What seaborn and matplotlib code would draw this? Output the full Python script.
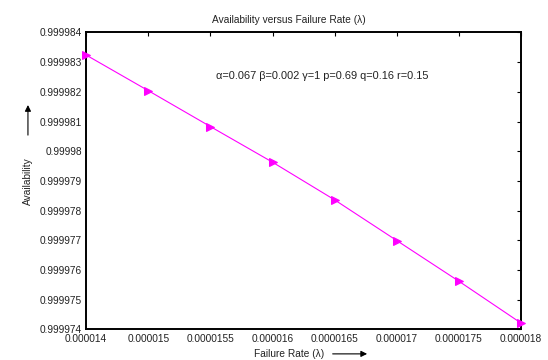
import matplotlib
matplotlib.use("Agg")
import matplotlib.pyplot as plt
import seaborn as sns
import pandas as pd

# Data
rate_labels = ["0.000014", "0.000015", "0.0000155", "0.000016",
               "0.0000165", "0.000017", "0.0000175", "0.000018"]
availability = [0.99998324, 0.99998204, 0.99998083, 0.99997963,
                0.99997836, 0.99997699, 0.99997562, 0.99997421]
y_ticks = [0.999974, 0.999975, 0.999976, 0.999977, 0.999978,
           0.999979, 0.99998, 0.999981, 0.999982, 0.999983, 0.999984]
y_tick_labels = ["0.999974", "0.999975", "0.999976", "0.999977", "0.999978",
                 "0.999979", "0.99998", "0.999981", "0.999982", "0.999983", "0.999984"]

df = pd.DataFrame({"pos": range(len(rate_labels)), "avail": availability})

sns.set_style("white")
plt.rcParams["font.family"] = ["Liberation Sans", "DejaVu Sans"]
plt.rcParams["font.size"] = 7.3

fig = plt.figure(figsize=(5.48, 3.6), dpi=100)
ax = fig.add_axes([0.157, 0.085, 0.794, 0.825])

sns.lineplot(data=df, x="pos", y="avail", ax=ax, color="#ff00ff",
             marker=">", markersize=6, markeredgecolor="#ff00ff",
             linewidth=0.8, clip_on=False, zorder=5)

ax.set_xlim(0, len(rate_labels) - 1)
ax.set_ylim(y_ticks[0], y_ticks[-1])
ax.set_xticks(range(len(rate_labels)))
ax.set_xticklabels(rate_labels)
ax.set_yticks(y_ticks)
ax.set_yticklabels(y_tick_labels)
ax.set_xlabel("")
ax.set_ylabel("")

for s in ax.spines.values():
    s.set_visible(True)
    s.set_color("black")
    s.set_linewidth(1.4)
ax.tick_params(direction="in", length=3, width=0.8, colors="black",
               labelcolor="#222222", top=True, right=True, pad=3)

ax.text(0.299, 0.854, "α=0.067 β=0.002 γ=1 p=0.69 q=0.16 r=0.15",
        transform=ax.transAxes, ha="left", va="center", color="#222222",
        fontsize=7.9)

fig.text(0.527, 0.944, "Availability versus Failure Rate (λ)",
         ha="center", va="center", color="#222222")

# y label with arrow
fig.text(0.051, 0.497, "Availability", rotation=90, ha="center", va="center",
         color="#222222")
ax.annotate("", xy=(0.051, 0.716), xytext=(0.051, 0.617),
            xycoords="figure fraction", textcoords="figure fraction",
            arrowprops=dict(arrowstyle="-|>", color="black", lw=0.8,
                            mutation_scale=9))

# x label with arrow
fig.text(0.527, 0.017, "Failure Rate (λ)", ha="center", va="center",
         color="#222222")
ax.annotate("", xy=(0.675, 0.017), xytext=(0.602, 0.017),
            xycoords="figure fraction", textcoords="figure fraction",
            arrowprops=dict(arrowstyle="-|>", color="black", lw=0.8,
                            mutation_scale=9))

fig.savefig("out.png", dpi=100)
